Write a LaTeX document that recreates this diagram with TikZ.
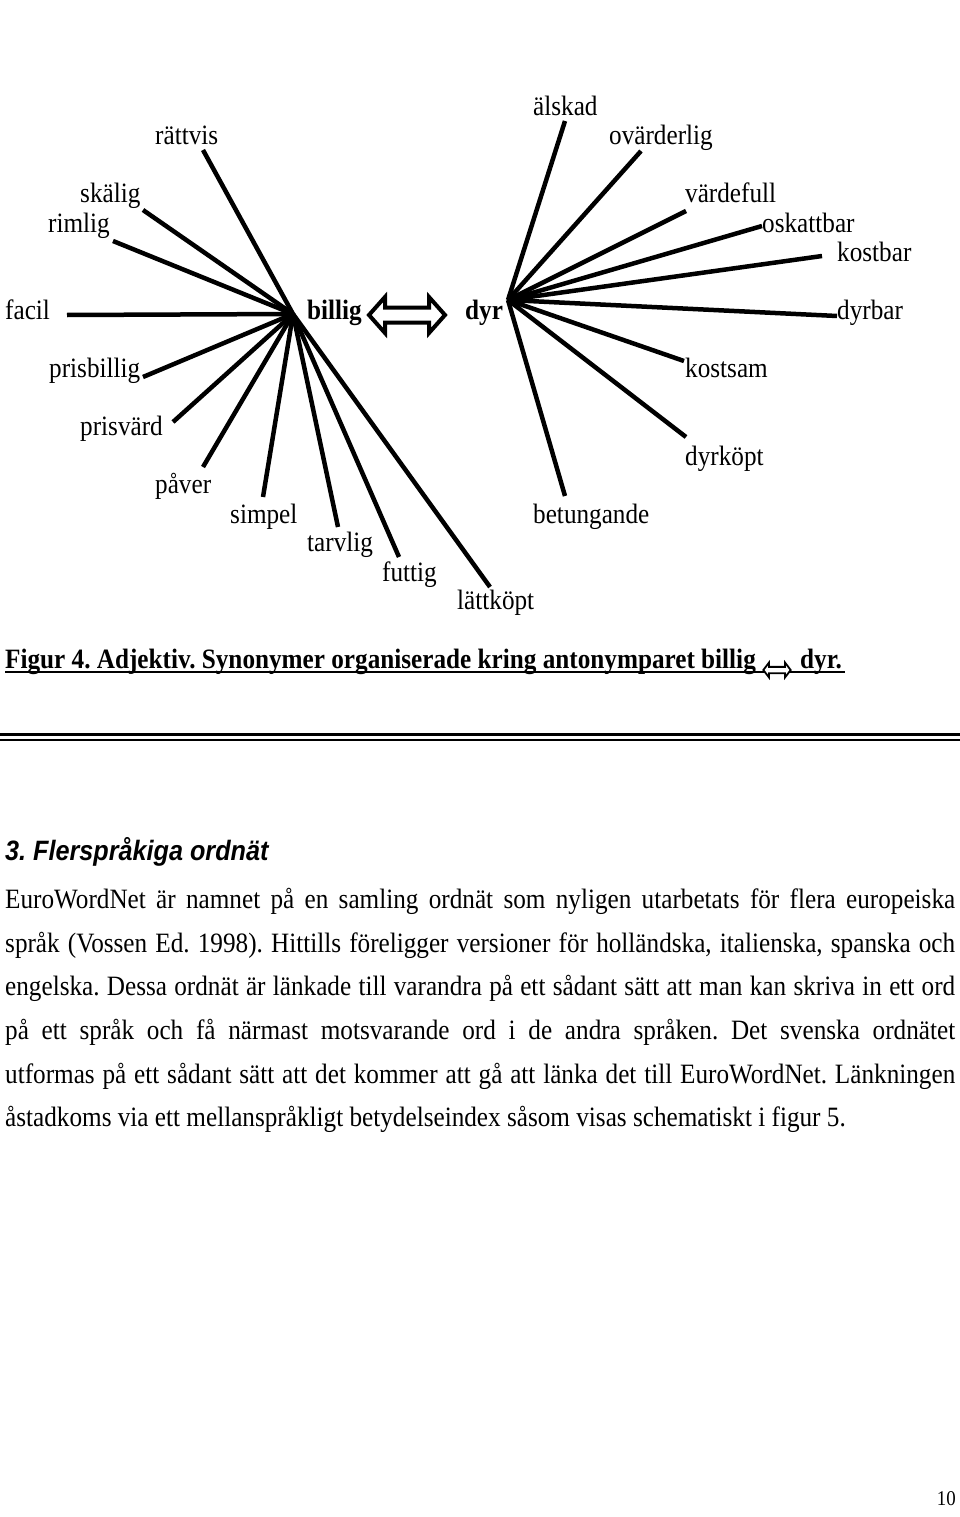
\documentclass[tikz,border=0pt]{standalone}
\usepackage{fontspec}
\setmainfont{Liberation Serif}[FakeStretch=0.9]
\newfontfamily\headfont{Liberation Sans}[FakeStretch=0.9]
\frenchspacing
\begin{document}
\frenchspacing
\begin{tikzpicture}[x=1pt,y=-1pt,
  lbl/.style={anchor=base west,inner sep=0pt,font=\fontsize{28}{34}\selectfont},
  hublbl/.style={lbl,font=\fontsize{28}{34}\selectfont\bfseries},
  spoke/.style={line width=4.5pt},
  bodyline/.style={anchor=base west,inner sep=0pt,font=\fontsize{28}{34}\selectfont\frenchspacing},
  headline/.style={anchor=base west,inner sep=0pt,font=\fontsize{28}{34}\selectfont\headfont\bfseries\itshape\frenchspacing},
  captext/.style={anchor=base west,inner sep=0pt,font=\fontsize{28}{34}\selectfont\bfseries\frenchspacing},
  dblarrow/.style={fill=white,line join=miter,miter limit=10},
]
\useasboundingbox[fill=white] (0,0) rectangle (960,1517);

% ---------- hub coordinates ----------
\coordinate (hb) at (293,314);
\coordinate (hd) at (508,300);

% ---------- labels around billig ----------
\node[lbl] (rattvis) at (155,145) {rättvis};
\node[lbl] (skalig) at (80,203) {skälig};
\node[lbl] (rimlig) at (48,233) {rimlig};
\node[lbl] (facil) at (5,319) {facil};
\node[lbl] (prisbillig) at (49,377) {prisbillig};
\node[lbl] (prisvard) at (80,435) {prisvärd};
\node[lbl] (paver) at (155,493) {påver};
\node[lbl] (simpel) at (230,523) {simpel};
\node[lbl] (tarvlig) at (307,551) {tarvlig};
\node[lbl] (futtig) at (382,581) {futtig};
\node[lbl] (lattkopt) at (457,609) {lättköpt};

\node[hublbl] (billig) at (307,319) {billig};
\node[hublbl] (dyr) at (465,319) {dyr};

% ---------- labels around dyr ----------
\node[lbl] (alskad) at (533,116) {älskad};
\node[lbl] (ovarderlig) at (609,145) {ovärderlig};
\node[lbl] (vardefull) at (685,203) {värdefull};
\node[lbl] (oskattbar) at (762,233) {oskattbar};
\node[lbl] (kostbar) at (837,261) {kostbar};
\node[lbl] (dyrbar) at (837,319) {dyrbar};
\node[lbl] (kostsam) at (685,377) {kostsam};
\node[lbl] (dyrkopt) at (685,465) {dyrköpt};
\node[lbl] (betungande) at (533,523) {betungande};

% ---------- spoke ends ----------
\coordinate (e-rattvis) at (203,150);
\coordinate (e-skalig) at (143,210);
\coordinate (e-rimlig) at (113,241);
\coordinate (e-facil) at (67,315);
\coordinate (e-prisbillig) at (143,377);
\coordinate (e-prisvard) at (173,422);
\coordinate (e-paver) at (203,467);
\coordinate (e-simpel) at (263,497);
\coordinate (e-tarvlig) at (338,527);
\coordinate (e-futtig) at (399,557);
\coordinate (e-lattkopt) at (490,587);

\coordinate (e-alskad) at (565,121);
\coordinate (e-ovarderlig) at (641,151);
\coordinate (e-vardefull) at (686,211);
\coordinate (e-oskattbar) at (762,226);
\coordinate (e-kostbar) at (822,256);
\coordinate (e-dyrbar) at (837,316);
\coordinate (e-kostsam) at (684,361);
\coordinate (e-dyrkopt) at (686,437);
\coordinate (e-betungande) at (565,496);

\foreach \e in {rattvis,skalig,rimlig,facil,prisbillig,prisvard,paver,simpel,tarvlig,futtig,lattkopt}
  \draw[spoke] (hb) -- (e-\e);
\foreach \e in {alskad,ovarderlig,vardefull,oskattbar,kostbar,dyrbar,kostsam,dyrkopt,betungande}
  \draw[spoke] (hd) -- (e-\e);

% ---------- big double arrow ----------
\coordinate (arr) at (407,315);
\begin{scope}[shift={(arr)}]
  \draw[dblarrow,line width=4pt] (-38,0) -- (-22,-18) -- (-22,-7.5) -- (22,-7.5) -- (22,-18) -- (38,0)
     -- (22,18) -- (22,7.5) -- (-22,7.5) -- (-22,18) -- cycle;
\end{scope}

% ---------- caption ----------
\node[captext] (cap) at (5,668) {Figur 4. Adjektiv. Synonymer organiserade kring antonymparet billig};
\node[captext] (capdyr) at (800,668) {dyr.};
\coordinate (ul-a) at (5,672);
\coordinate (ul-b) at (845,672);
\draw[line width=1.6pt] (ul-a) -- (ul-b);
\coordinate (carr) at (777,670);
\begin{scope}[shift={(carr)},xscale=0.36,yscale=0.42]
  \draw[dblarrow,line width=1.8pt] (-38,0) -- (-22,-18) -- (-22,-7.5) -- (22,-7.5) -- (22,-18) -- (38,0)
     -- (22,18) -- (22,7.5) -- (-22,7.5) -- (-22,18) -- cycle;
\end{scope}

% ---------- separator rules ----------
\coordinate (r1a) at (0,734);
\coordinate (r1b) at (960,734);
\coordinate (r2a) at (0,740);
\coordinate (r2b) at (960,740);
\draw[line width=3pt] (r1a) -- (r1b);
\draw[line width=1.2pt] (r2a) -- (r2b);

% ---------- section text ----------
\node[headline] (head) at (5,860) {3. Flerspråkiga ordnät};
\node[bodyline] (l1) at (5,908) {\makebox[950pt][s]{EuroWordNet är namnet på en samling ordnät som nyligen utarbetats för flera europeiska}};
\node[bodyline] (l2) at (5,952) {\makebox[950pt][s]{språk (Vossen Ed. 1998). Hittills föreligger versioner för holländska, italienska, spanska och}};
\node[bodyline] (l3) at (5,995) {\makebox[950pt][s]{engelska. Dessa ordnät är länkade till varandra på ett sådant sätt att man kan skriva in ett ord}};
\node[bodyline] (l4) at (5,1039) {\makebox[950pt][s]{på ett språk och få närmast motsvarande ord i de andra språken. Det svenska ordnätet}};
\node[bodyline] (l5) at (5,1083) {\makebox[950pt][s]{utformas på ett sådant sätt att det kommer att gå att länka det till EuroWordNet. Länkningen}};
\node[bodyline] (l6) at (5,1126) {åstadkoms via ett mellanspråkligt betydelseindex såsom visas schematiskt i figur 5.};

\node[anchor=base east,inner sep=0pt,font=\fontsize{21}{25}\selectfont] (pagenum) at (956,1505) {10};
\end{tikzpicture}
\end{document}
